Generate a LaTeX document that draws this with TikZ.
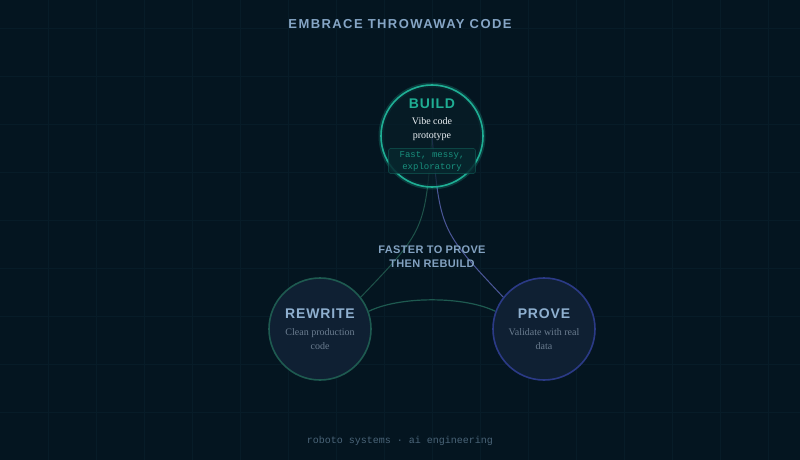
\documentclass[tikz,border=0pt]{standalone}
\usepackage{fontspec}
\setmainfont{Liberation Serif}
\setsansfont{Liberation Sans}
\setmonofont{Liberation Mono}
\newfontfamily\titlefont[LetterSpace=11]{Liberation Sans}
\newfontfamily\stagefont[LetterSpace=6]{Liberation Sans}
\newfontfamily\labelfont[LetterSpace=3]{Liberation Sans}
\definecolor{bgcol}{HTML}{041520}
\definecolor{gridcol}{HTML}{071C28}
\definecolor{buildcol}{HTML}{1FAE94}
\definecolor{buildfill}{HTML}{071E28}
\definecolor{rewritecol}{HTML}{1E5A50}
\definecolor{provecol}{HTML}{2B3A86}
\definecolor{stagefill}{HTML}{0F2033}
\definecolor{headcol}{HTML}{86A6C6}
\definecolor{stagehead}{HTML}{8FB0D0}
\definecolor{subcol}{HTML}{6B7D90}
\definecolor{footcol}{HTML}{4A6478}
\pgfdeclarelayer{grid}
\pgfdeclarelayer{edges}
\pgfsetlayers{grid,edges,main}
\tikzset{
  stage/.style={circle, minimum size=102pt, inner sep=0pt, line width=1.6pt, fill=stagefill},
  stagename/.style={font=\stagefont\bfseries\fontsize{14}{16}\selectfont, text=stagehead},
  stagetext/.style={font=\fontsize{10}{14}\selectfont, text=subcol, align=center},
  tagbox/.style={draw=buildcol!45!bgcol, fill=buildcol!12!bgcol, rounded corners=2pt,
    font=\ttfamily\fontsize{9}{12}\selectfont, text=buildcol!80!bgcol, align=center,
    inner xsep=11pt, inner ysep=2.5pt, fill opacity=0.85, text opacity=1},
}
\begin{document}
\begin{tikzpicture}[x=1pt, y=-1pt]
  \useasboundingbox (0,0) rectangle (800,460);
  \begin{pgfonlayer}{grid}
    \fill[bgcol] (0,0) rectangle (800,460);
    \foreach \gx in {48,96,...,792}
      \draw[gridcol, line width=0.6pt] (\gx,0) -- (\gx,460);
    \foreach \gy in {28,76,...,460}
      \draw[gridcol, line width=0.6pt] (0,\gy) -- (800,\gy);
  \end{pgfonlayer}

  \node[font=\titlefont\bfseries\fontsize{13}{15}\selectfont, text=headcol] (title) at (400,24) {EMBRACE THROWAWAY CODE};

  % stages
  \draw[buildcol, opacity=0.25, line width=5pt] (432,136) circle (51);
  \node[stage, draw=buildcol, fill=buildfill, fill opacity=0.7] (build) at (432,136) {};
  \node[stage, draw=rewritecol] (rewrite) at (320,329) {};
  \node[stage, draw=provecol] (prove) at (544,329) {};

  \node[stagename, text=buildcol] (buildname) at (432,104) {BUILD};
  \node[stagetext, text=white!85!headcol] (buildtext) at (432,129.5) {Vibe code\\prototype};
  \node[tagbox] (buildtag) at (432,161) {Fast, messy,\\exploratory};

  \node[stagename] (rewritename) at (320,314) {REWRITE};
  \node[stagetext] (rewritetext) at (320,339) {Clean production\\code};

  \node[stagename] (provename) at (544,314) {PROVE};
  \node[stagetext] (provetext) at (544,339) {Validate with real\\data};

  \node[font=\labelfont\bfseries\fontsize{11}{14}\selectfont, text=headcol!90!subcol, align=center] (loop) at (432,257) {FASTER TO PROVE\\THEN REBUILD};

  % cycle
  \begin{pgfonlayer}{edges}
    \draw[rewritecol!110!buildcol, line width=1pt] (build.center) .. controls (425,230) .. (rewrite.38);
    \draw[provecol!85!white, line width=1pt] (build.center) .. controls (440,230) .. (prove.142);
    \draw[rewritecol, line width=1.2pt] (rewrite.20) .. controls (400,296) and (464,296) .. (prove.160);
  \end{pgfonlayer}

  \node[font=\ttfamily\fontsize{10}{12}\selectfont, text=footcol] (footer) at (400,441) {roboto systems · ai engineering};
\end{tikzpicture}
\end{document}
